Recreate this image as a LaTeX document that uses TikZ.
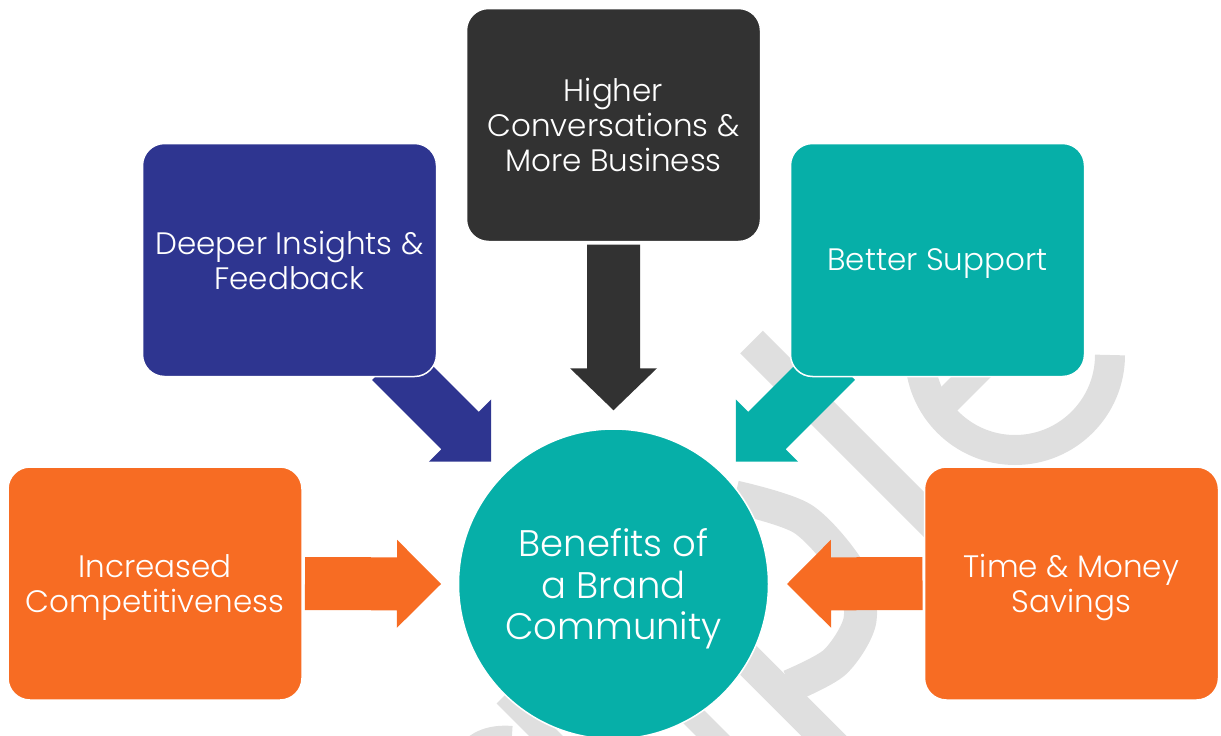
\documentclass[tikz,border=0pt]{standalone}
\usepackage{fontspec}
\setmainfont{Poppins}[UprightFont=* Light]
\usetikzlibrary{calc}
\definecolor{corange}{RGB}{247,108,35}
\definecolor{cblue}{RGB}{46,53,144}
\definecolor{cdark}{RGB}{50,50,50}
\definecolor{cteal}{RGB}{6,175,168}
\definecolor{wmgray}{RGB}{223,223,223}
\pgfdeclarelayer{wmlayer}
\pgfdeclarelayer{arrowlayer}
\pgfsetlayers{wmlayer,arrowlayer,main}
% block arrow: #1 tail, #2 tip, #3 shaft half width, #4 head half width, #5 head length, #6 colour
\newcommand\blockarrow[6]{%
  \coordinate (ba-h) at ($(#2)!#5!(#1)$);
  \fill[#6] ($(#1)!#3!90:(#2)$) -- ($(ba-h)!#3!-90:(#1)$) -- ($(ba-h)!#4!-90:(#1)$)
    -- (#2) -- ($(ba-h)!#4!90:(#1)$) -- ($(ba-h)!#3!90:(#1)$) -- ($(#1)!#3!-90:(#2)$) -- cycle;}
\begin{document}
\begin{tikzpicture}[x=1pt,y=-1pt,
  box/.style={rectangle, rounded corners=22pt, draw=white, line width=1.5pt,
    minimum width=294pt, minimum height=233pt, inner sep=0pt, text=white,
    align=center, text depth=0pt, font=\fontsize{31}{35}\selectfont},
  hub/.style={circle, fill=cteal, draw=white, line width=1.5pt, minimum size=310pt,
    inner sep=0pt, text=white, align=center, text depth=0pt,
    font=\fontsize{37}{41.5}\selectfont},
  wm/.style={draw=wmgray, line width=32pt}]
\useasboundingbox (0,0) rectangle (1221,736);
% nodes
\node[box, fill=corange] (inc) at (155,583.5) {Increased\\Competitiveness};
\node[box, fill=cblue] (deep) at (289.5,260) {Deeper Insights \&\\Feedback};
\node[box, fill=cdark] (high) at (613.5,125) {Higher\\Conversations \&\\More Business};
\node[box, fill=cteal] (supp) at (937.5,260) {Better Support};
\node[box, fill=corange] (time) at (1071.5,583.5) {Time \& Money\\Savings};
\node[hub] (circ) at (613.5,584) {Benefits of\\a Brand\\Community};
% connectors
\coordinate (a1s) at ([xshift=2.25pt]inc.east);
\coordinate (a1e) at ([xshift=-16.75pt]circ.west);
\coordinate (a2s) at ([xshift=-1.25pt]time.west);
\coordinate (a2e) at ([xshift=17.75pt]circ.east);
\coordinate (a3s) at ([yshift=-2.25pt]high.south);
\coordinate (a3e) at ([yshift=18pt]circ.north);
\coordinate (dtail) at (390.75,361.25);
\coordinate (dtip) at (491.15,461.65);
\coordinate (stail) at (836.25,361.25);
\coordinate (stip) at (735.85,461.65);
\begin{pgfonlayer}{arrowlayer}
\blockarrow{a1s}{a1e}{26.5pt}{44pt}{44pt}{corange}
\blockarrow{a2s}{a2e}{26.5pt}{44pt}{44pt}{corange}
\blockarrow{a3s}{a3e}{26.5pt}{43.5pt}{42pt}{cdark}
\blockarrow{dtail}{dtip}{26.5pt}{44pt}{44pt}{cblue}
\blockarrow{stail}{stip}{26.5pt}{44pt}{44pt}{cteal}
\end{pgfonlayer}
% watermark
\begin{pgfonlayer}{wmlayer}
\draw[wm] (751.5,342) -- (965,555.5);
\draw[wm, line width=30pt] (1110,355) arc[start angle=0, end angle=290, radius=95];
\draw[wm, line width=28pt] (935,413) -- (1060,288);
\draw[wm] (690,602) -- (860,772);
\draw[wm, line width=33pt] plot[smooth] coordinates {(735,497) (803,519) (850,572) (860,620) (835,662) (790,686)};
\draw[wm, line width=24pt] (505,695) -- (565,755);
\draw[wm, line width=24pt] (660,683) -- (735,758);
\draw[wm, line width=18pt] (462,760) .. controls (470,740) and (490,733) .. (512,735);
\end{pgfonlayer}
\end{tikzpicture}
\end{document}
